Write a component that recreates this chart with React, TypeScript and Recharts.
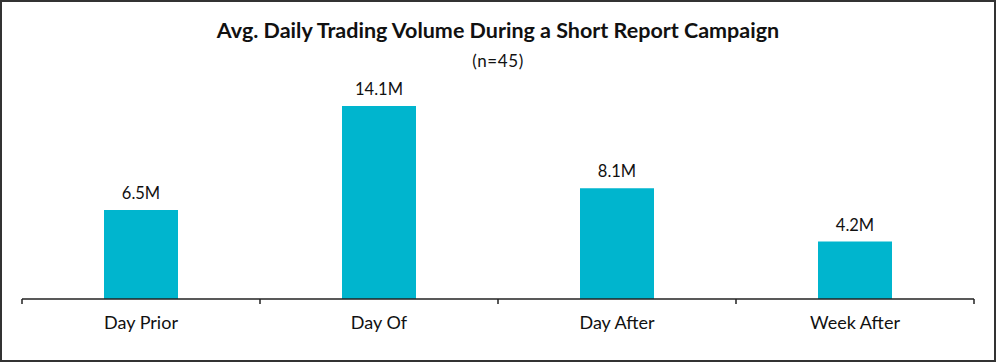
import React from 'react';
import { BarChart, Bar, XAxis, YAxis, LabelList } from 'recharts';

const categories = ['Day Prior', 'Day Of', 'Day After', 'Week After'];
const volumes = [6.5, 14.1, 8.1, 4.2];

const data = categories.map((name, i) => ({ name, volume: volumes[i] }));

const FONT = 'Lato, "Noto Sans", sans-serif';
const AXIS = '#222';

// category label plus a small tick at the left edge of each band (and the right edge of the last)
const EdgeTick = (props: any) => {
  const { x, y, payload, index, visibleTicksCount } = props;
  const half = payload && payload.offset ? payload.offset : 119;
  const axisY = y;
  const last = index === (visibleTicksCount ?? categories.length) - 1;
  return (
    <g>
      <line x1={x - half} x2={x - half} y1={axisY} y2={axisY + 5} stroke={AXIS} strokeWidth={1.5} />
      {last && (
        <line x1={x + half} x2={x + half} y1={axisY} y2={axisY + 5} stroke={AXIS} strokeWidth={1.5} />
      )}
      <text x={x} y={axisY + 30} textAnchor="middle" fill="#111" fontSize={18} fontFamily={FONT}>
        {payload.value}
      </text>
    </g>
  );
};

export default function App() {
  return (
    <div
      style={{
        position: 'absolute',
        left: 0,
        top: 0,
        width: 996,
        height: 362,
        background: '#fff',
        fontFamily: FONT,
      }}
    >
      <div
        style={{
          position: 'absolute',
          top: 17,
          width: '100%',
          textAlign: 'center',
          fontSize: 21.5,
          fontWeight: 700,
          color: '#111',
        }}
      >
        Avg. Daily Trading Volume During a Short Report Campaign
      </div>
      <div
        style={{
          position: 'absolute',
          top: 50,
          width: '100%',
          textAlign: 'center',
          fontSize: 17,
          letterSpacing: 0.6,
          color: '#111',
        }}
      >
        (n=45)
      </div>
      <BarChart
        width={996}
        height={362}
        data={data}
        margin={{ top: 80, right: 22, left: 22, bottom: 0 }}
        barCategoryGap={82}
      >
        <XAxis
          dataKey="name"
          height={63}
          axisLine={{ stroke: AXIS, strokeWidth: 1.5 }}
          tickLine={false}
          tickSize={0}
          tickMargin={0}
          tick={<EdgeTick />}
          interval={0}
        />
        <YAxis hide domain={[0, 16]} />
        <Bar dataKey="volume" fill="#00B5CE" isAnimationActive={false}>
          <LabelList
            dataKey="volume"
            position="top"
            offset={11}
            formatter={(v: any) => `${v}M`}
            style={{ fill: '#111', fontSize: 16.5, fontFamily: FONT }}
          />
        </Bar>
      </BarChart>
      <div
        style={{
          position: 'absolute',
          left: 0,
          top: 0,
          width: 996,
          height: 362,
          boxSizing: 'border-box',
          border: '2px solid #333',
          pointerEvents: 'none',
        }}
      />
    </div>
  );
}
